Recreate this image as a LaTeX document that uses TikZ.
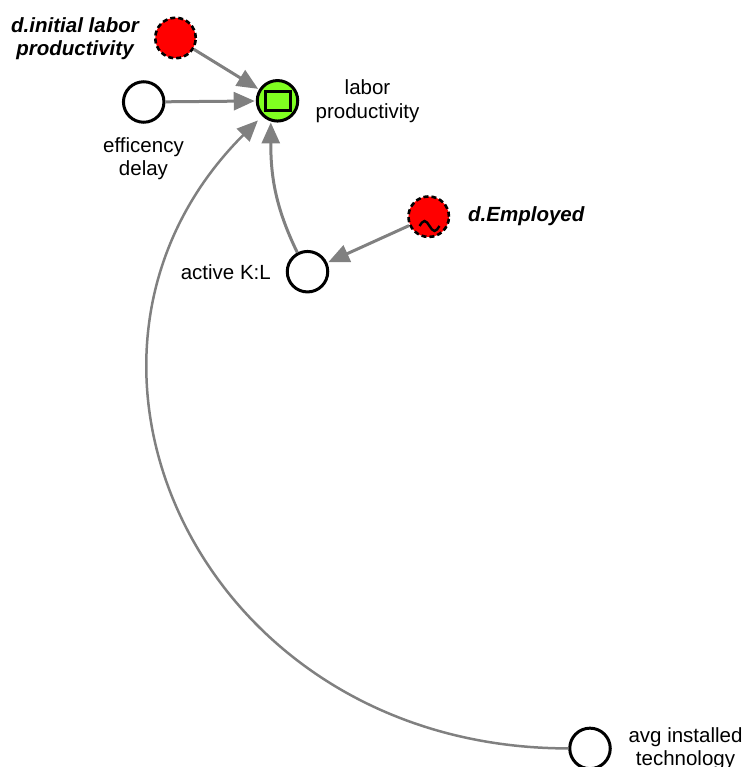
\documentclass[tikz,border=0pt]{standalone}
\usepackage{fontspec}
\setmainfont{Liberation Sans}
\usetikzlibrary{arrows.meta}
\definecolor{vred}{RGB}{255,0,0}
\definecolor{vgreen}{RGB}{128,255,32}
\definecolor{vgray}{RGB}{128,128,128}
\begin{document}
\begin{tikzpicture}[x=1pt,y=1pt,
  var/.style={circle,draw=black,line width=3pt,minimum size=40.5pt,inner sep=0pt,fill=white},
  shadowvar/.style={var,fill=vred,line width=2.6pt,dash pattern=on 5pt off 3pt},
  lbl/.style={font=\fontsize{20.5}{23.5}\selectfont,align=center,inner sep=0pt},
  blbl/.style={font=\fontsize{20.5}{23}\selectfont\bfseries\itshape,align=center,inner sep=0pt},
  conn/.style={draw=vgray,line width=3pt,-{Triangle[length=21pt,width=18pt]},shorten >=1pt}]
\useasboundingbox (0,0) rectangle (743,-767);

% variables
\node[shadowvar] (init) at (175.5,-38) {};
\node[var] (eff) at (143.7,-102) {};
\node[var,fill=vgreen] (lab) at (277.5,-100.8) {};
\node[draw=black,line width=2.6pt,fill=vgreen,minimum width=25pt,minimum height=19pt,inner sep=0pt] (labbox) at (278,-101) {};
\node[shadowvar] (emp) at (428.7,-216.7) {};
\node[var] (kl) at (307.5,-271.7) {};
\node[var] (avg) at (590,-748.4) {};

% tilde mark in d.Employed
\draw[line width=2.4pt] (419.5,-226) sin (424.5,-221) cos (429.5,-226) sin (434.5,-231) cos (439.5,-226);

% labels
\node[blbl] (initlbl) at (75,-38.5) {d.initial labor\\productivity};
\node[lbl] (lablbl) at (367.5,-101) {labor\\productivity};
\node[lbl] (efflbl) at (143.5,-158.5) {efficency\\delay};
\node[blbl,anchor=base west] (emplbl) at (468,-221.7) {d.Employed};
\node[lbl,anchor=base east] (kllbl) at (271,-279.5) {active K:L};
\node[lbl] (avglbl) at (685.5,-748.5) {avg installed\\technology};

% connectors
\draw[conn] (init) -- (lab);
\draw[conn] (eff) -- (lab);
\draw[conn] (emp) -- (kl);
\draw[conn] (kl.118) to[out=116,in=-90] (lab.252);
\draw[conn,line width=2.5pt,shorten >=6pt] (avg.180) to[out=180,in=225,out distance=368pt,in distance=340pt] (lab.225);
\end{tikzpicture}
\end{document}
